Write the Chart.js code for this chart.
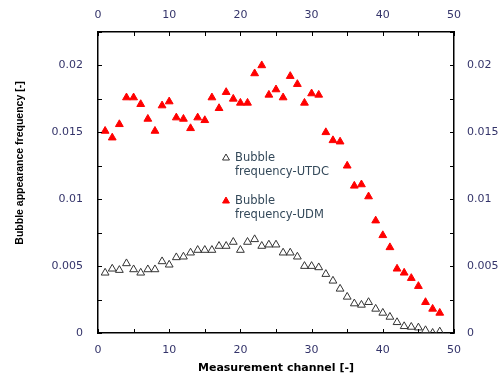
<!DOCTYPE html>
<html>
<head>
<meta charset="utf-8">
<script src="https://cdn.jsdelivr.net/npm/chart.js@4.4.1/dist/chart.umd.min.js"></script>
<style>
  html, body { margin: 0; padding: 0; background: #fff; }
  #wrap { width: 501px; height: 375px; }
</style>
</head>
<body>
<div id="wrap"><canvas id="chart" width="501" height="375"></canvas></div>
<script>
  // ── Datos ────────────────────────────────────────────────────
  const channels = [1, 2, 3, 4, 5, 6, 7, 8, 9, 10, 11, 12, 13, 14, 15, 16,
    17, 18, 19, 20, 21, 22, 23, 24, 25, 26, 27, 28, 29, 30, 31, 32,
    33, 34, 35, 36, 37, 38, 39, 40, 41, 42, 43, 44, 45, 46, 47, 48];

  const utdc = [0.0045, 0.0048, 0.0047, 0.0052, 0.00475, 0.0045, 0.00475, 0.00475,
    0.00535, 0.0051, 0.00565, 0.0057, 0.0060, 0.0062, 0.0062, 0.0062,
    0.0065, 0.0065, 0.0068, 0.0062, 0.0068, 0.0070, 0.0065, 0.0066,
    0.0066, 0.0060, 0.0060, 0.0057, 0.0050, 0.0050, 0.0049, 0.0044,
    0.0039, 0.0033, 0.0027, 0.0022, 0.0021, 0.0023, 0.0018, 0.0015,
    0.0012, 0.0008, 0.0005, 0.00045, 0.0004, 0.0002, 0.0, 0.0001];

  const udm = [0.0151, 0.0146, 0.0156, 0.0176, 0.0176, 0.0171, 0.0160, 0.0151,
    0.0170, 0.0173, 0.0161, 0.0160, 0.0153, 0.0161, 0.0159, 0.0176,
    0.0168, 0.0180, 0.0175, 0.0172, 0.0172, 0.0194, 0.0200, 0.0178,
    0.0182, 0.0176, 0.0192, 0.0186, 0.0172, 0.0179, 0.0178, 0.0150,
    0.0144, 0.0143, 0.0125, 0.0110, 0.0111, 0.0102, 0.0084, 0.0073,
    0.0064, 0.0048, 0.0045, 0.0041, 0.0035, 0.0023, 0.0018, 0.0015];

  const seriesLabels = [["Bubble", "frequency-UTDC"], ["Bubble", "frequency-UDM"]];
  const xTitle = "Measurement channel [-]";
  const yTitle = "Bubble appearance frequency [-]";

  const X_MIN = 0, X_MAX = 50, X_STEP = 5, X_LABEL_STEP = 10;
  const Y_MIN = 0, Y_MAX = 0.0225, Y_STEP = 0.0025, Y_LABEL_STEP = 0.005;

  // ── Estilos ─────────────────────────────────────────────────
  const TICK_COLOR = "#34346a";
  const TICK_FONT = { family: "'DejaVu Sans', sans-serif", size: 11 };

  function toPoints(ys) {
    return channels.map(function (c, i) { return { x: c, y: ys[i] }; });
  }

  function isMultiple(v, step) {
    const q = v / step;
    return Math.abs(q - Math.round(q)) < 1e-6;
  }

  function xLabel(v) { return isMultiple(v, X_LABEL_STEP) ? String(v) : ""; }
  function yLabel(v) { return isMultiple(v, Y_LABEL_STEP) ? String(+v.toFixed(4)) : ""; }

  function fixSize(prop, size) {
    return function (scale) { scale[prop] = size; };
  }

  function xAxis(position, height, pad, title) {
    return {
      type: "linear",
      position: position,
      min: X_MIN, max: X_MAX,
      grid: { display: false, drawTicks: false },
      border: { display: true, color: "#000", width: 1.5 },
      ticks: {
        stepSize: X_STEP, autoSkip: false, maxRotation: 0,
        padding: pad, color: TICK_COLOR, font: TICK_FONT, callback: xLabel,
      },
      title: title ? {
        display: true, text: title, color: "#000",
        font: { family: "'DejaVu Sans', sans-serif", size: 11, weight: "bold" },
        padding: { top: 0, bottom: 0 },
      } : { display: false },
      afterFit: fixSize("height", height),
    };
  }

  function yAxis(position, width, pad) {
    return {
      type: "linear",
      position: position,
      min: Y_MIN, max: Y_MAX,
      grid: { display: false, drawTicks: false },
      border: { display: true, color: "#000", width: 1.5 },
      ticks: {
        stepSize: Y_STEP, autoSkip: false,
        padding: pad, color: TICK_COLOR, font: TICK_FONT, callback: yLabel,
      },
      afterFit: fixSize("width", width),
    };
  }

  // Marcas de eje hacia dentro (estilo Excel)
  const innerTicks = {
    id: "innerTicks",
    afterDraw: function (chart) {
      const ctx = chart.ctx;
      const len = 4;
      ctx.save();
      ctx.strokeStyle = "#000";
      ctx.lineWidth = 1;
      ["x", "x2", "y", "y2"].forEach(function (id) {
        const s = chart.scales[id];
        s.ticks.forEach(function (t) {
          const p = Math.round(s.getPixelForValue(t.value)) + 0.5;
          ctx.beginPath();
          if (id === "x") { ctx.moveTo(p, s.top); ctx.lineTo(p, s.top - len); }
          else if (id === "x2") { ctx.moveTo(p, s.bottom); ctx.lineTo(p, s.bottom + len); }
          else if (id === "y") { ctx.moveTo(s.right, p); ctx.lineTo(s.right + len, p); }
          else { ctx.moveTo(s.left, p); ctx.lineTo(s.left - len, p); }
          ctx.stroke();
        });
      });
      ctx.restore();
    },
  };

  // Título del eje Y (desplazado hacia arriba como en el original)
  const yTitlePlugin = {
    id: "yTitle",
    afterDraw: function (chart) {
      const ctx = chart.ctx;
      ctx.save();
      ctx.translate(20, 163);
      ctx.rotate(-Math.PI / 2);
      ctx.fillStyle = "#000";
      ctx.font = "bold 10.5px 'Liberation Sans', Arial, sans-serif";
      ctx.textAlign = "center";
      ctx.textBaseline = "middle";
      ctx.fillText(yTitle, 0, 0);
      ctx.restore();
    },
  };

  // Leyenda dentro del área de trazado, con etiquetas en dos líneas
  const insideLegend = {
    id: "insideLegend",
    afterDatasetsDraw: function (chart) {
      const ctx = chart.ctx;
      const rows = [158, 201];
      ctx.save();
      ctx.font = "11.5px 'DejaVu Sans', sans-serif";
      ctx.textBaseline = "middle";
      ctx.textAlign = "left";
      chart.data.datasets.forEach(function (ds, i) {
        const y = rows[i];
        ctx.fillStyle = ds.backgroundColor;
        ctx.strokeStyle = ds.borderColor;
        ctx.lineWidth = ds.borderWidth;
        Chart.helpers.drawPoint(ctx, { pointStyle: "triangle", radius: 4, borderWidth: ds.borderWidth }, 226, y);
        ctx.fillStyle = "#34495a";
        seriesLabels[i].forEach(function (line, k) {
          ctx.fillText(line, 235, y + k * 14);
        });
      });
      ctx.restore();
    },
  };

  new Chart(document.getElementById("chart"), {
    type: "scatter",
    data: {
      datasets: [
        {
          label: seriesLabels[0].join(" "),
          data: toPoints(utdc),
          pointStyle: "triangle",
          pointRadius: 4.5,
          backgroundColor: "rgba(255,255,255,0)",
          borderColor: "#333333",
          borderWidth: 1,
          xAxisID: "x", yAxisID: "y",
        },
        {
          label: seriesLabels[1].join(" "),
          data: toPoints(udm),
          pointStyle: "triangle",
          pointRadius: 4.5,
          backgroundColor: "#ff0000",
          borderColor: "#ff0000",
          borderWidth: 1,
          xAxisID: "x", yAxisID: "y",
        },
      ],
    },
    options: {
      responsive: false,
      animation: false,
      devicePixelRatio: 1,
      layout: { padding: 0 },
      plugins: {
        legend: { display: false },
        tooltip: { enabled: false },
      },
      scales: {
        x: xAxis("bottom", 42, 11, xTitle),
        x2: xAxis("top", 32, 10, null),
        y: yAxis("left", 98, 15),
        y2: yAxis("right", 47, 13),
      },
    },
    plugins: [innerTicks, yTitlePlugin, insideLegend],
  });
</script>
</body>
</html>
